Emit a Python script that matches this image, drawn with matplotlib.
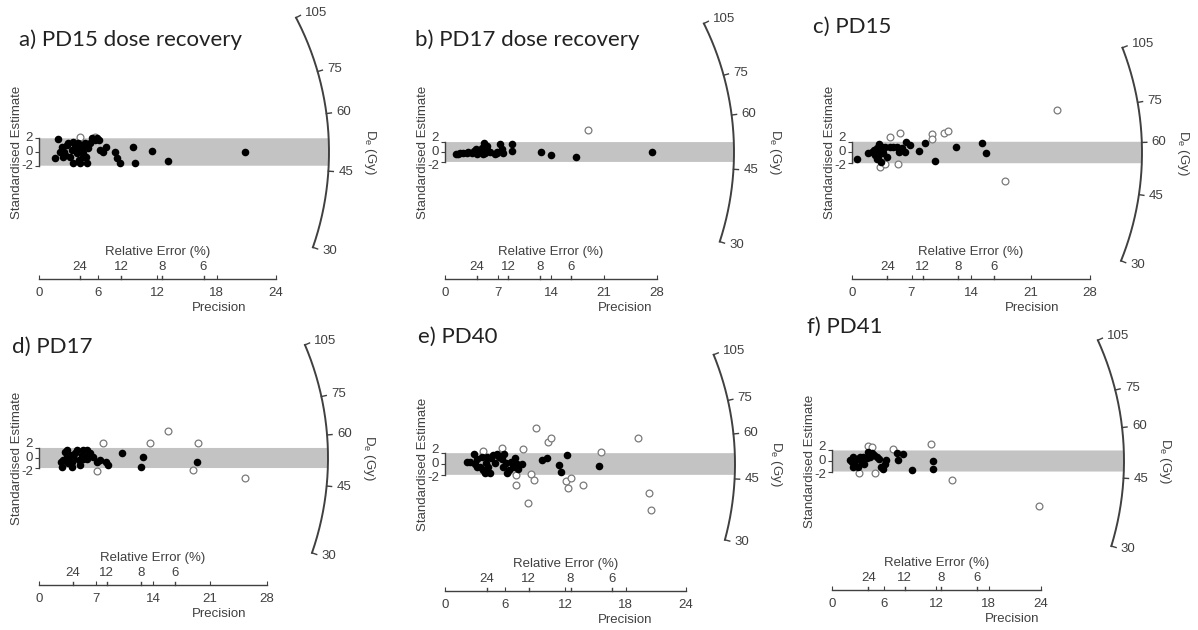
import numpy as np
import matplotlib.pyplot as plt

# ---- data (precision, standardised estimate) ----
titles = ['a) PD15 dose recovery', 'b) PD17 dose recovery', 'c) PD15',
          'd) PD17', 'e) PD40', 'f) PD41']

a_fill_p = [1.96, 1.62, 2.30, 2.53, 2.80, 2.64, 3.14, 3.31, 3.48, 3.65, 3.82, 3.99, 4.09, 4.32, 4.49,
            4.66, 4.76, 4.90, 4.16, 5.17, 5.34, 5.68, 5.84, 6.11, 6.18, 6.52, 6.79, 7.70, 7.87, 8.21,
            9.49, 9.73, 11.42, 13.11, 20.88, 2.97, 3.48, 3.75, 4.43, 4.56, 2.13, 2.47, 5.00]
a_fill_z = [1.84, -0.92, 0.78, 0.05, 1.02, -0.44, -0.68, 0.29, -1.65, 0.78, -0.19, 1.26, -1.17, 0.53, -0.19,
            1.26, -0.68, -1.65, -1.65, 1.26, 1.99, 1.75, 1.99, 1.75, 0.29, 0.05, 0.78, 0.05, -0.92, -1.65,
            0.78, -1.65, 0.15, -1.31, 0.05, 1.36, 1.50, 0.39, -0.78, 0.78, 0.05, -0.68, 0.53]
a_open_p = [4.16, 5.68]
a_open_z = [2.14, 2.23]

b_fill_p = [1.45, 1.98, 2.42, 3.08, 3.52, 3.83, 4.19, 4.54, 4.85, 5.15, 5.29, 5.59, 5.95, 6.61, 6.92,
            7.27, 7.49, 7.71, 8.81, 8.81, 12.64, 13.96, 17.31, 27.31, 1.76, 2.86, 4.10, 4.98, 5.59, 6.83]
b_fill_z = [-0.40, -0.27, -0.13, 0.07, -0.27, 0.27, -0.40, 0.07, 0.74, 1.74, -0.13, 0.40, 0.07, -0.40, 0.07,
            1.61, 0.54, -0.27, 1.61, 0.27, 0.07, -0.60, -0.94, 0.07, -0.40, -0.13, 0.54, -0.40, 1.21, -0.27]
b_open_p = [18.85]
b_open_z = [4.43]

c_fill_p = [0.55, 1.92, 2.31, 2.71, 2.90, 3.10, 3.22, 3.29, 3.37, 3.61, 3.88, 4.08, 4.47, 4.86, 5.25,
            5.57, 5.84, 6.24, 6.35, 6.82, 7.92, 8.59, 9.76, 12.24, 15.25, 15.76, 2.98, 3.49, 2.59, 3.69]
c_fill_z = [-1.27, -0.16, 0.16, -0.47, 0.78, -0.78, 1.58, 0.16, -1.71, -0.16, 1.09, -0.78, 1.09, 0.96, 1.09,
            0.16, 0.78, 0.16, 1.90, 1.40, 0.34, 1.83, -1.52, 0.96, 1.83, -0.16, -1.27, 1.09, 0.47, 0.59]
c_open_p = [4.47, 5.65, 9.37, 9.37, 10.82, 11.33, 3.29, 3.88, 5.45, 18.00, 24.08]
c_open_z = [2.83, 3.57, 3.45, 2.45, 3.57, 4.00, -2.64, -2.14, -2.14, -5.25, 7.92]

d_fill_p = [2.79, 3.00, 3.20, 3.40, 3.61, 3.81, 4.02, 4.22, 4.43, 4.71, 4.96, 5.04, 5.25, 5.45, 5.78,
            5.94, 6.27, 6.68, 7.09, 7.50, 8.24, 8.52, 10.16, 12.75, 12.50, 19.39, 2.66, 3.40, 4.02, 5.37, 5.94]
d_fill_z = [-1.72, -0.40, 1.26, 0.26, -1.06, 0.60, -1.72, -0.07, 0.93, 1.59, -0.40, -1.39, 0.60, 1.59, 0.26,
            1.59, 0.93, 0.26, -0.73, -0.40, -0.73, -1.39, 1.06, 0.20, -1.85, -0.73, -0.73, 1.59, -0.73, -0.26, -0.26]
d_open_p = [7.83, 7.09, 13.65, 15.82, 19.59, 18.89, 25.33]
d_open_z = [3.05, -2.52, 2.91, 5.43, 3.05, -2.38, -3.91]

e_fill_p = [2.16, 2.49, 2.89, 2.99, 3.22, 3.49, 3.65, 3.82, 3.99, 4.09, 4.32, 4.55, 4.82, 4.98, 5.15,
            5.42, 5.65, 5.88, 6.08, 6.21, 6.41, 6.54, 6.74, 6.98, 7.14, 7.31, 7.64, 9.63, 10.20, 11.40,
            11.53, 12.13, 15.38, 4.49, 4.22, 3.16, 5.81]
e_fill_z = [0.43, 0.43, 1.84, 0.00, 0.86, -0.49, 1.35, -1.10, -1.72, 0.25, -0.49, 1.04, 1.66, 0.25, 1.90,
            1.35, 0.86, 1.84, 0.25, -1.72, -1.10, 0.43, -0.49, 1.04, 0.00, -0.98, 0.00, 0.74, 1.04, -0.18,
            -1.41, 1.66, -0.37, -1.60, 1.35, -0.49, -0.49]
e_open_p = [3.75, 5.65, 7.74, 9.07, 10.30, 10.53, 15.51, 19.27, 7.08, 7.08, 8.54, 8.87, 8.31, 12.06,
            12.52, 12.29, 13.72, 20.27, 20.50]
e_open_z = [2.45, 3.00, 2.70, 6.56, 4.11, 4.72, 2.27, 4.85, -2.02, -3.87, -1.90, -2.94, -7.12, -3.13,
            -2.52, -4.48, -3.87, -5.40, -8.47]

f_fill_p = [2.26, 2.45, 2.64, 2.84, 3.03, 3.22, 3.41, 3.68, 3.98, 4.18, 4.37, 4.56, 4.83, 5.13, 5.44,
            5.59, 5.82, 6.09, 6.21, 7.43, 7.62, 8.20, 9.16, 11.57, 11.57, 2.07, 2.45, 3.60]
f_fill_z = [-0.13, 0.82, -0.76, 0.32, -1.08, 0.82, -0.13, -0.57, 0.51, 1.77, 0.82, 1.46, 1.14, 0.82, 0.32,
            -1.08, -1.58, -0.57, 0.19, 1.46, 0.19, 1.33, -1.71, 0.00, -1.58, 0.19, -1.08, 0.82]
f_open_p = [3.14, 4.18, 4.56, 4.94, 6.97, 11.38, 13.75, 23.83]
f_open_z = [-2.34, 2.85, 2.72, -2.22, 2.22, 3.23, -3.61, -8.54]

central_de = [49.5, 49.3, 56.8, 52.7, 49.5, 49.6]   # Gy, value at z = 0
precision_max = [24, 28, 28, 28, 24, 24]
de_ticks = [30, 45, 60, 75, 105]
re_ticks = [24, 12, 8, 6]

points = [(a_fill_p, a_fill_z, a_open_p, a_open_z), (b_fill_p, b_fill_z, b_open_p, b_open_z),
          (c_fill_p, c_fill_z, c_open_p, c_open_z), (d_fill_p, d_fill_z, d_open_p, d_open_z),
          (e_fill_p, e_fill_z, e_open_p, e_open_z), (f_fill_p, f_fill_z, f_open_p, f_open_z)]

# ---- layout in pixels: origin x/y, px per precision unit, px per z unit, axis line y, arc radius ----
layout = [dict(ox=39, oy=152, sx=9.87, sy=6.86, ly=279, R=290, tx=19, ty=40),
          dict(ox=445, oy=152, sx=7.57, sy=4.97, ly=279, R=289, tx=415, ty=40),
          dict(ox=852, oy=152.5, sx=8.5, sy=5.36, ly=279, R=290, tx=813, ty=27),
          dict(ox=39, oy=458, sx=8.14, sy=5.02, ly=585, R=289, tx=12, ty=347),
          dict(ox=445, oy=464, sx=10.04, sy=5.43, ly=591, R=290, tx=418, ty=337),
          dict(ox=832, oy=461, sx=8.7, sy=5.27, ly=590, R=292, tx=807, ty=327)]

W, H = 1198, 630
fig = plt.figure(figsize=(W / 100, H / 100), dpi=100)
txt = '#404040'
lab_font = 'Liberation Sans'
fs = 9.5

for i, L in enumerate(layout):
    ox, oy, sx, sy, ly, R = L['ox'], L['oy'], L['sx'], L['sy'], L['ly'], L['R']
    pmax = precision_max[i]
    ax = fig.add_axes([ox / W, 1 - ly / H, 360 / W, (ly - oy + 200) / H])
    ax.set_xlim(0, 360 / sx)
    y0 = -(ly - oy) / sy
    ax.set_ylim(y0, 200 / sy)
    ax.patch.set_visible(False)
    for s in ['top', 'right']:
        ax.spines[s].set_visible(False)
    for s in ['left', 'bottom']:
        ax.spines[s].set_color(txt)
        ax.spines[s].set_linewidth(1.0)
    ax.spines['left'].set_bounds(-2, 2)
    ax.spines['bottom'].set_bounds(0, pmax)
    ax.set_yticks([-2, 0, 2])
    ax.set_yticklabels([])
    ax.tick_params(axis='y', direction='out', length=3, color=txt)
    ax.set_xticks(np.arange(0, pmax + 1, pmax // 4))
    ax.tick_params(axis='x', direction='in', length=3, color=txt, labelsize=fs,
                   labelcolor=txt, pad=5.5)
    for t in ax.get_xticklabels():
        t.set_fontfamily(lab_font)
    ax.set_xlabel('Precision', fontsize=fs, color=txt, family=lab_font, labelpad=2.5)

    # y tick labels, spread apart like the original
    spread = max(1.0, 7.0 / sy)
    for v in [2, 0, -2]:
        ax.text(-6 / sx, v * spread, str(v), ha='right', va='center', fontsize=fs,
                color=txt, family=lab_font)

    # relative error ticks
    for r in re_ticks:
        p = 100.0 / r
        ax.plot([p, p], [y0, y0 + 3 / sy], color=txt, lw=1.0, clip_on=False)
        ax.text(p, y0 + 12 / sy, str(r), ha='center', va='center', fontsize=fs,
                color=txt, family=lab_font)
    ax.text(pmax / 2, y0 + 27 / sy, 'Relative Error (%)', ha='center', va='center',
            fontsize=fs, color=txt, family=lab_font)

    # arc geometry
    d0 = central_de[i]
    def theta(d):
        return np.arctan(sy / sx * np.log(d / d0))
    th = np.linspace(theta(min(de_ticks)), theta(max(de_ticks)), 200)
    ax.plot(R * np.cos(th) / sx, R * np.sin(th) / sy, color=txt, lw=1.4, clip_on=False)
    for d in de_ticks:
        t = theta(d)
        ax.plot([R * np.cos(t) / sx, (R + 5) * np.cos(t) / sx],
                [R * np.sin(t) / sy, (R + 5) * np.sin(t) / sy], color=txt, lw=1.0, clip_on=False)
        ax.text((R + 10) * np.cos(t) / sx, (R + 10) * np.sin(t) / sy, str(d), ha='left',
                va='center', fontsize=fs, color=txt, family=lab_font)
    ax.text((R + 41) / sx, 0, r'D$_\mathregular{e}$ (Gy)', rotation=270, ha='center',
            va='center', fontsize=fs, color=txt, family=lab_font)

    # shaded +-2 band ending on the arc
    yb = np.linspace(2, -2, 30)
    xb = np.sqrt(R ** 2 - (yb * sy) ** 2) / sx
    ax.fill(np.r_[0, xb, 0], np.r_[2, yb, -2], color='#c3c3c3', lw=0, zorder=1)

    ax.text(-22 / sx, 0, 'Standardised Estimate', rotation=90, ha='center', va='center',
            fontsize=fs, color=txt, family=lab_font)

    fp, fz, op, oz = points[i]
    ax.scatter(op, oz, s=24, facecolor='white', edgecolor='#7a7a7a', lw=0.9, zorder=3,
               clip_on=False)
    ax.scatter(fp, fz, s=30, color='black', lw=0, zorder=4, clip_on=False)

    fig.text(L['tx'] / W, 1 - L['ty'] / H, titles[i], ha='left', va='center',
             fontsize=16, color='#222222', family='Lato')

fig.savefig('out.png', dpi=100, facecolor='white')
